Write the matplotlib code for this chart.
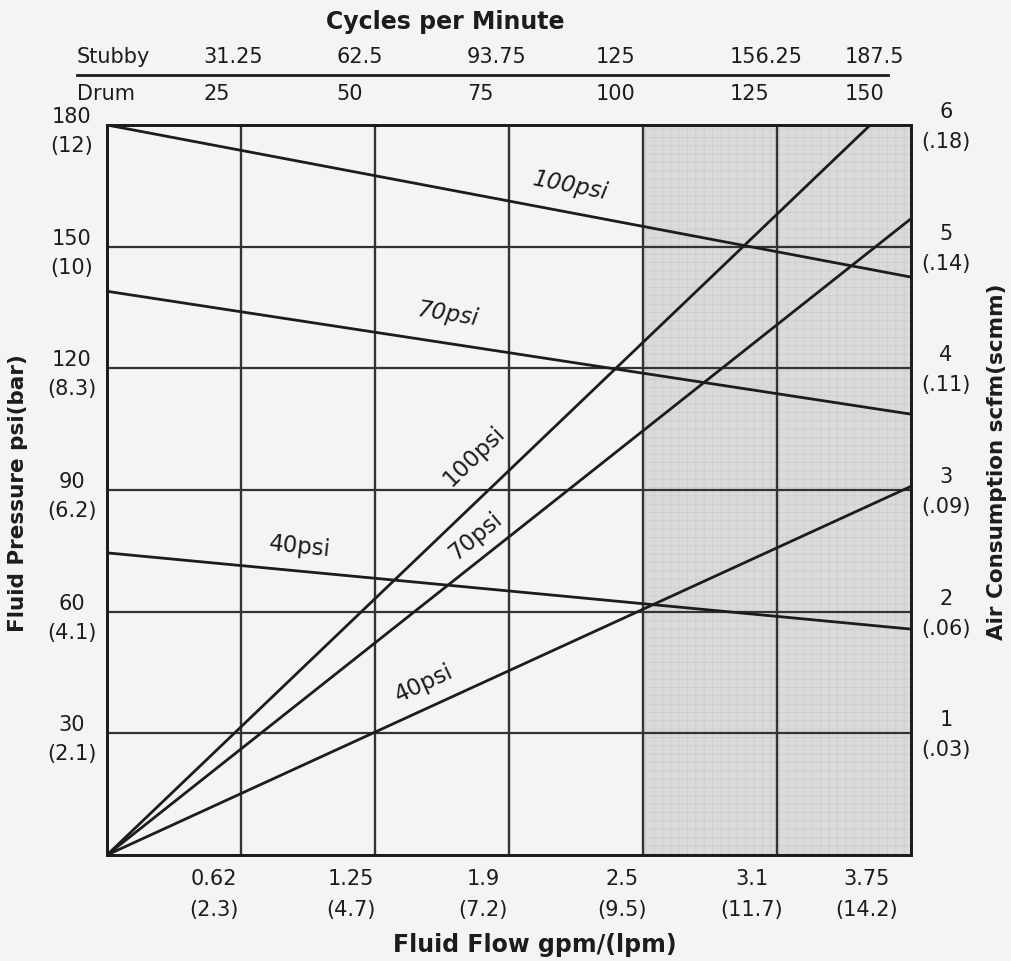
import numpy as np
import matplotlib
matplotlib.use("Agg")
import matplotlib.pyplot as plt

plt.rcParams['font.family'] = ['DejaVu Sans']
plt.rcParams['hatch.linewidth'] = 0.5

# ---------------- data ----------------
flow_ticks = [0.625, 1.25, 1.875, 2.5, 3.125, 3.75]
gpm_labels = ["0.62", "1.25", "1.9", "2.5", "3.1", "3.75"]
lpm_labels = ["(2.3)", "(4.7)", "(7.2)", "(9.5)", "(11.7)", "(14.2)"]
stubby_cpm = ["31.25", "62.5", "93.75", "125", "156.25", "187.5"]
drum_cpm = ["25", "50", "75", "100", "125", "150"]

pressure_ticks = [30, 60, 90, 120, 150, 180]
psi_labels = ["30", "60", "90", "120", "150", "180"]
bar_labels = ["(2.1)", "(4.1)", "(6.2)", "(8.3)", "(10)", "(12)"]

scfm_ticks = [1, 2, 3, 4, 5, 6]
scfm_labels = ["1", "2", "3", "4", "5", "6"]
scmm_labels = ["(.03)", "(.06)", "(.09)", "(.11)", "(.14)", "(.18)"]

# fluid pressure (psi) vs flow (gpm) for each air inlet pressure
fluid_flow = [0.0, 3.75]
fluid_100 = [180.0, 142.5]
fluid_70 = [139.0, 108.7]
fluid_40 = [74.5, 55.7]

# air consumption (scfm) vs flow (gpm)
air_100_flow = [0.0, 3.56]
air_100 = [0.0, 6.0]
air_70_flow = [0.0, 3.75]
air_70 = [0.0, 5.23]
air_40_flow = [0.0, 3.75]
air_40 = [0.0, 3.03]

shade_range = [2.5, 3.75]

# ---------------- style / layout ----------------
BG = '#f4f4f2'
INK = '#1c1c1c'
GRID = '#333333'
NUM_FS = 15

fig = plt.figure(figsize=(10.11, 9.61), dpi=100, facecolor=BG)
W, H = 1011, 961
L, R, T, B = 107, 911, 125, 855
ax = fig.add_axes([L / W, (H - B) / H, (R - L) / W, (B - T) / H])
ax.set_facecolor(BG)
ax.set_xlim(0, 3.75)
ax.set_ylim(0, 180)
ax2 = ax.twinx()
ax2.set_ylim(0, 6)

for a in (ax, ax2):
    a.set_xticks([])
    a.set_yticks([])
    for s in a.spines.values():
        s.set_linewidth(2.0)
        s.set_color(INK)

# shaded zone
ax.axvspan(shade_range[0], shade_range[1], facecolor='#dadada', edgecolor='#cbcbcb',
           hatch='++', linewidth=0, zorder=0)

# grid
for fx in flow_ticks[:-1]:
    ax.axvline(fx, color=GRID, lw=1.7, zorder=1)
for p in pressure_ticks[:-1]:
    ax.axhline(p, color=GRID, lw=1.6, zorder=1)

# data lines
LW = 2.0
ax.plot(fluid_flow, fluid_100, color=INK, lw=LW, zorder=3)
ax.plot(fluid_flow, fluid_70, color=INK, lw=LW, zorder=3)
ax.plot(fluid_flow, fluid_40, color=INK, lw=LW, zorder=3)
ax2.plot(air_100_flow, air_100, color=INK, lw=LW, zorder=3)
ax2.plot(air_70_flow, air_70, color=INK, lw=LW, zorder=3)
ax2.plot(air_40_flow, air_40, color=INK, lw=LW, zorder=3)

# line labels: (axis, xs, ys, text, anchor flow, dy px, rotation, style)
line_labels = [
    (ax, fluid_flow, fluid_100, "100psi", 2.16, 27, -11, 'italic'),
    (ax, fluid_flow, fluid_70, "70psi", 1.59, 29, -9, 'italic'),
    (ax, fluid_flow, fluid_40, "40psi", 0.90, 24, -6, 'normal'),
    (ax2, air_100_flow, air_100, "100psi", 1.71, 48, 44, 'normal'),
    (ax2, air_70_flow, air_70, "70psi", 1.72, 27, 40, 'normal'),
    (ax2, air_40_flow, air_40, "40psi", 1.48, 26, 25, 'normal'),
]
for a, xs, ys, txt, fx, dy, rot, sty in line_labels:
    yv = float(np.interp(fx, xs, ys))
    a.annotate(txt, xy=(fx, yv), xycoords='data', xytext=(0, dy),
               textcoords='offset pixels', ha='center', va='center',
               rotation=rot, rotation_mode='anchor', fontsize=16.5, style=sty,
               color=INK, zorder=5)

# bottom axis labels
bottom_dx = [-27, -24, -26, -21, -25, -44]
for fx, g, lp, dx in zip(flow_ticks, gpm_labels, lpm_labels, bottom_dx):
    ax.annotate(g, xy=(fx, 0), xycoords='data', xytext=(dx, -24),
                textcoords='offset pixels', ha='center', va='center',
                fontsize=NUM_FS, color=INK, annotation_clip=False)
    ax.annotate(lp, xy=(fx, 0), xycoords='data', xytext=(dx, -55),
                textcoords='offset pixels', ha='center', va='center',
                fontsize=NUM_FS, color=INK, annotation_clip=False)

# top header (cycles per minute)
top_dx = [-38, -39, -42, -47, -47, -66]
for fx, st, dr, dx in zip(flow_ticks, stubby_cpm, drum_cpm, top_dx):
    ax.annotate(st, xy=(fx, 180), xycoords='data', xytext=(dx, 68),
                textcoords='offset pixels', ha='left', va='center',
                fontsize=NUM_FS, color=INK, annotation_clip=False)
    ax.annotate(dr, xy=(fx, 180), xycoords='data', xytext=(dx, 31),
                textcoords='offset pixels', ha='left', va='center',
                fontsize=NUM_FS, color=INK, annotation_clip=False)
ax.annotate("Stubby", xy=(0, 180), xycoords='data', xytext=(-30, 68),
            textcoords='offset pixels', ha='left', va='center',
            fontsize=NUM_FS, color=INK, annotation_clip=False)
ax.annotate("Drum", xy=(0, 180), xycoords='data', xytext=(-30, 31),
            textcoords='offset pixels', ha='left', va='center',
            fontsize=NUM_FS, color=INK, annotation_clip=False)
aw, ah = R - L, B - T
ax.plot([-30 / aw, 1 - 23 / aw], [1 + 50 / ah, 1 + 50 / ah], transform=ax.transAxes,
        color=INK, lw=2.0, clip_on=False)
ax.text((445 - L) / aw, 1 + 103 / ah, "Cycles per Minute", transform=ax.transAxes,
        ha='center', va='center', fontsize=17, fontweight='bold', color=INK)

# left axis labels
for p, ps, br in zip(pressure_ticks, psi_labels, bar_labels):
    ax.annotate(ps, xy=(0, p), xycoords='data', xytext=(-35, 8),
                textcoords='offset pixels', ha='center', va='center',
                fontsize=NUM_FS, color=INK, annotation_clip=False)
    ax.annotate(br, xy=(0, p), xycoords='data', xytext=(-35, -21),
                textcoords='offset pixels', ha='center', va='center',
                fontsize=NUM_FS, color=INK, annotation_clip=False)

# right axis labels
for s, sl, sm in zip(scfm_ticks, scfm_labels, scmm_labels):
    ax2.annotate(sl, xy=(3.75, s), xycoords='data', xytext=(35, 13),
                 textcoords='offset pixels', ha='center', va='center',
                 fontsize=NUM_FS, color=INK, annotation_clip=False)
    ax2.annotate(sm, xy=(3.75, s), xycoords='data', xytext=(35, -17),
                 textcoords='offset pixels', ha='center', va='center',
                 fontsize=NUM_FS, color=INK, annotation_clip=False)

# axis titles
ax.text((535 - L) / aw, -90 / ah, "Fluid Flow gpm/(lpm)", transform=ax.transAxes,
        ha='center', va='center', fontsize=17, fontweight='bold', color=INK)
ax.text(-89 / aw, (B - 493) / ah, "Fluid Pressure psi(bar)", transform=ax.transAxes,
        ha='center', va='center', rotation=90, fontsize=15.5, fontweight='bold', color=INK)
ax.text(1 + 86 / aw, (B - 462) / ah, "Air Consumption scfm(scmm)", transform=ax.transAxes,
        ha='center', va='center', rotation=90, fontsize=15.5, fontweight='bold', color=INK)

fig.savefig("out.png", dpi=100, facecolor=BG)
